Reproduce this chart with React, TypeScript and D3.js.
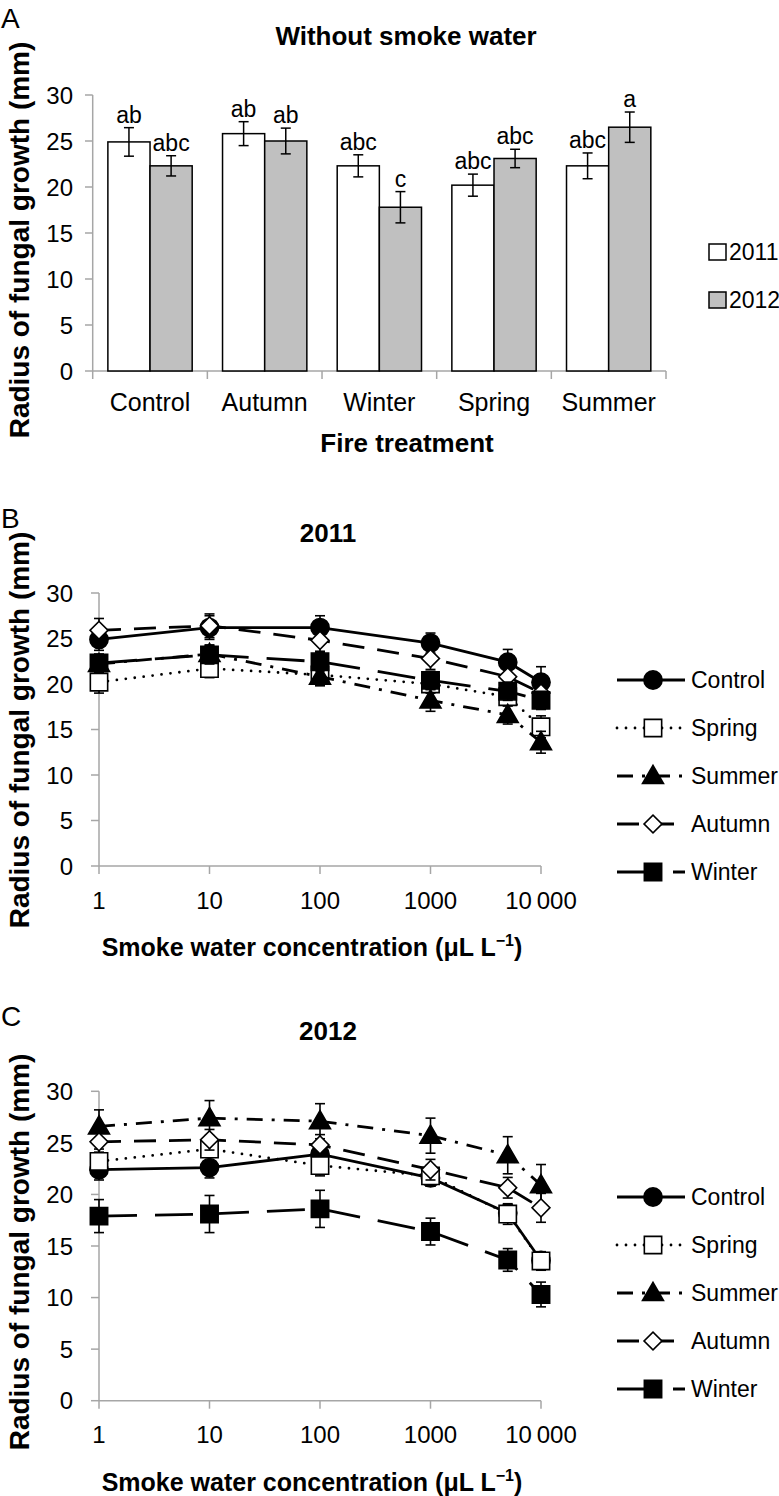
import * as d3 from "d3";
import React from "react";

// Panel A: without smoke water
const fireCats = ["Control", "Autumn", "Winter", "Spring", "Summer"];
const years = ["2011", "2012"];
const bar2011 = [24.9, 25.8, 22.3, 20.2, 22.3];
const err2011 = [1.55, 1.3, 1.2, 1.2, 1.4];
const sig2011 = ["ab", "ab", "abc", "abc", "abc"];
const bar2012 = [22.3, 25.0, 17.8, 23.1, 26.5];
const err2012 = [1.1, 1.4, 1.7, 1.0, 1.65];
const sig2012 = ["abc", "ab", "c", "abc", "a"];

// Panels B & C: smoke water concentration series
const concs = [1, 10, 100, 1000, 5000, 10000];
const concTicks = [1, 10, 100, 1000, 10000];
const yTicks = [0, 5, 10, 15, 20, 25, 30];
const seriesNames = ["Control", "Spring", "Summer", "Autumn", "Winter"];

const b2011Control = [24.9, 26.2, 26.2, 24.5, 22.4, 20.2];
const b2011Spring = [20.2, 21.7, 21.0, 20.0, 18.6, 15.3];
const b2011Summer = [22.2, 23.3, 20.8, 18.2, 16.6, 13.6];
const b2011Autumn = [25.9, 26.4, 24.8, 22.8, 20.8, 19.0];
const b2011Winter = [22.3, 23.2, 22.45, 20.4, 19.2, 18.2];
const e2011Control = [1.2, 1.3, 1.3, 1.1, 1.4, 1.7];
const e2011Spring = [1.2, 1.0, 1.0, 1.0, 1.0, 1.2];
const e2011Summer = [1.0, 1.0, 1.0, 1.2, 1.0, 1.2];
const e2011Autumn = [1.3, 1.3, 1.2, 1.2, 1.2, 1.2];
const e2011Winter = [1.0, 1.0, 1.0, 1.0, 1.0, 1.0];

const c2012Control = [22.4, 22.6, 23.9, 21.6, 18.2, 13.6];
const c2012Spring = [23.2, 24.4, 22.8, 21.8, 18.1, 13.55];
const c2012Summer = [26.6, 27.4, 27.1, 25.7, 23.8, 20.9];
const c2012Autumn = [25.1, 25.3, 24.8, 22.4, 20.65, 18.7];
const c2012Winter = [17.9, 18.1, 18.6, 16.4, 13.65, 10.3];
const e2012Control = [1.0, 1.0, 1.0, 0.8, 0.8, 0.8];
const e2012Spring = [1.2, 1.2, 1.0, 1.0, 1.0, 0.9];
const e2012Summer = [1.6, 1.7, 1.7, 1.7, 1.8, 2.0];
const e2012Autumn = [1.0, 1.0, 1.0, 1.0, 1.0, 1.4];
const e2012Winter = [1.6, 1.8, 1.8, 1.3, 1.1, 1.2];

const FONT = "'Liberation Sans', Arial, Helvetica, sans-serif";
const AXIS = "#a6a6a6";

interface SeriesStyle {
  dash: string;
  cap: "round" | "butt";
  symbol: d3.SymbolType;
  size: number;
  fill: string;
  rotate: number;
}

const styles: Record<string, SeriesStyle> = {
  Control: { dash: "none", cap: "butt", symbol: d3.symbolCircle, size: 260, fill: "#000", rotate: 0 },
  Spring: { dash: "0,9", cap: "round", symbol: d3.symbolSquare, size: 300, fill: "#fff", rotate: 0 },
  Summer: { dash: "16,9,3,9", cap: "butt", symbol: d3.symbolTriangle, size: 190, fill: "#000", rotate: 0 },
  Autumn: { dash: "22,13", cap: "butt", symbol: d3.symbolSquare, size: 160, fill: "#fff", rotate: 45 },
  Winter: { dash: "38,18", cap: "butt", symbol: d3.symbolSquare, size: 300, fill: "#000", rotate: 0 },
};

function Marker({ name, x, y }: { name: string; x: number; y: number }) {
  const s = styles[name];
  const path = d3.symbol().type(s.symbol).size(s.size)()!;
  const dy = s.symbol === d3.symbolTriangle ? 1.5 : 0;
  return (
    <path
      d={path}
      transform={`translate(${x},${y + dy}) rotate(${s.rotate})`}
      fill={s.fill}
      stroke="#000"
      strokeWidth={1.6}
    />
  );
}

function BarPanel() {
  const y = d3.scaleLinear().domain([0, 30]).range([371, 95]);
  const x = d3.scaleBand().domain(fireCats).range([92.7, 666]);
  const inner = d3.scaleBand().domain(years).range([0, x.bandwidth()]).paddingInner(0).paddingOuter(0.36);
  const bw = inner.bandwidth();
  const sets = [
    { year: "2011", vals: bar2011, errs: err2011, sig: sig2011, fill: "#fff" },
    { year: "2012", vals: bar2012, errs: err2012, sig: sig2012, fill: "#c0c0c0" },
  ];
  return (
    <g fontFamily={FONT}>
      <text x={1} y={28} fontSize={28}>A</text>
      <text x={406} y={45} fontSize={26} fontWeight="bold" textAnchor="middle">Without smoke water</text>
      {/* y axis */}
      <line x1={92.7} x2={92.7} y1={y(30)} y2={y(0)} stroke={AXIS} strokeWidth={1.5} />
      {yTicks.map((t) => (
        <g key={t}>
          <line x1={85} x2={92.7} y1={y(t)} y2={y(t)} stroke={AXIS} strokeWidth={1.5} />
          <text x={73} y={y(t)} dy="0.36em" fontSize={24} textAnchor="end">{t}</text>
        </g>
      ))}
      <line x1={92.7} x2={666} y1={y(0)} y2={y(0)} stroke={AXIS} strokeWidth={1.5} />
      {fireCats.map((c) => (
        <line key={c} x1={x(c)!} x2={x(c)!} y1={y(0)} y2={y(0) + 8} stroke={AXIS} strokeWidth={1.5} />
      ))}
      <line x1={666} x2={666} y1={y(0)} y2={y(0) + 8} stroke={AXIS} strokeWidth={1.5} />
      {sets.map((s) => (
        <g key={s.year}>
          {fireCats.map((c, i) => {
            const x0 = x(c)! + inner(s.year)!;
            const cx = x0 + bw / 2;
            const top = y(s.vals[i] + s.errs[i]);
            const bot = y(s.vals[i] - s.errs[i]);
            return (
              <g key={c}>
                <rect x={x0} y={y(s.vals[i])} width={bw} height={y(0) - y(s.vals[i])} fill={s.fill} stroke="#000" strokeWidth={1.5} />
                <line x1={cx} x2={cx} y1={top} y2={bot} stroke="#000" strokeWidth={1.5} />
                <line x1={cx - 5} x2={cx + 5} y1={top} y2={top} stroke="#000" strokeWidth={1.5} />
                <line x1={cx - 5} x2={cx + 5} y1={bot} y2={bot} stroke="#000" strokeWidth={1.5} />
                <text x={cx} y={top - 5} fontSize={23} textAnchor="middle">{s.sig[i]}</text>
              </g>
            );
          })}
        </g>
      ))}
      {fireCats.map((c) => (
        <text key={c} x={x(c)! + x.bandwidth() / 2} y={411} fontSize={25} textAnchor="middle">{c}</text>
      ))}
      <text x={407} y={452} fontSize={26} fontWeight="bold" textAnchor="middle">Fire treatment</text>
      <text transform={`translate(29,240) rotate(-90)`} fontSize={28} fontWeight="bold" textAnchor="middle">
        Radius of fungal growth (mm)
      </text>
      {/* legend */}
      {years.map((yr, i) => (
        <g key={yr}>
          <rect x={709} y={244 + i * 48} width={17} height={16} fill={i === 0 ? "#fff" : "#c0c0c0"} stroke="#000" strokeWidth={1.5} />
          <text x={729} y={252 + i * 48} dy="0.36em" fontSize={23}>{yr}</text>
        </g>
      ))}
    </g>
  );
}

interface LinePanelProps {
  letter: string;
  title: string;
  top: number;
  bottom: number;
  letterY: number;
  titleY: number;
  legendY: number;
  yTitleY: number;
  vals: number[][];
  errs: number[][];
}

function LinePanel({ letter, title, top, bottom, letterY, titleY, legendY, yTitleY, vals, errs }: LinePanelProps) {
  const x = d3.scaleLog().domain([1, 10000]).range([99, 541]);
  const y = d3.scaleLinear().domain([0, 30]).range([bottom, top]);
  const line = d3.line<number>().x((_, i) => x(concs[i])).y((d) => y(d));
  const fmt = (t: number) => (t === 10000 ? "10\u2009000" : String(t));
  return (
    <g fontFamily={FONT}>
      <text x={1} y={letterY} fontSize={28}>{letter}</text>
      <text x={328} y={titleY} fontSize={26} fontWeight="bold" textAnchor="middle">{title}</text>
      <line x1={99} x2={99} y1={top} y2={bottom} stroke={AXIS} strokeWidth={1.5} />
      {yTicks.map((t) => (
        <g key={t}>
          <line x1={91} x2={99} y1={y(t)} y2={y(t)} stroke={AXIS} strokeWidth={1.5} />
          <text x={73} y={y(t)} dy="0.36em" fontSize={24} textAnchor="end">{t}</text>
        </g>
      ))}
      <line x1={99} x2={541} y1={bottom} y2={bottom} stroke={AXIS} strokeWidth={1.5} />
      {concTicks.map((t) => (
        <g key={t}>
          <line x1={x(t)} x2={x(t)} y1={bottom} y2={bottom + 8} stroke={AXIS} strokeWidth={1.5} />
          <text x={x(t)} y={bottom + 34} dy="0.36em" fontSize={24} textAnchor="middle">{fmt(t)}</text>
        </g>
      ))}
      <text x={312} y={bottom + 81} dy="0.36em" fontSize={25} fontWeight="bold" textAnchor="middle">
        Smoke water concentration (μL L<tspan dy={-10} fontSize={16}>−1</tspan><tspan dy={10}>)</tspan>
      </text>
      <text transform={`translate(29,${yTitleY}) rotate(-90)`} fontSize={28} fontWeight="bold" textAnchor="middle">
        Radius of fungal growth (mm)
      </text>
      {seriesNames.map((n, k) => {
        const s = styles[n];
        return (
          <g key={n}>
            <path d={line(vals[k])!} fill="none" stroke="#000" strokeWidth={2.8} strokeDasharray={s.dash} strokeLinecap={s.cap} />
            {vals[k].map((v, i) => {
              const cx = x(concs[i]);
              const t = y(v + errs[k][i]);
              const b = y(v - errs[k][i]);
              return (
                <g key={i}>
                  <line x1={cx} x2={cx} y1={t} y2={b} stroke="#000" strokeWidth={1.6} />
                  <line x1={cx - 5} x2={cx + 5} y1={t} y2={t} stroke="#000" strokeWidth={1.6} />
                  <line x1={cx - 5} x2={cx + 5} y1={b} y2={b} stroke="#000" strokeWidth={1.6} />
                  <Marker name={n} x={cx} y={y(v)} />
                </g>
              );
            })}
          </g>
        );
      })}
      {seriesNames.map((n, k) => {
        const s = styles[n];
        const ly = legendY + k * 48;
        return (
          <g key={n}>
            <line x1={617} x2={685} y1={ly} y2={ly} stroke="#000" strokeWidth={2.8} strokeDasharray={s.dash} strokeLinecap={s.cap} />
            <Marker name={n} x={653} y={ly} />
            <text x={691} y={ly} dy="0.36em" fontSize={23}>{n}</text>
          </g>
        );
      })}
    </g>
  );
}

export default function App() {
  return (
    <div style={{ position: "absolute", left: 0, top: 0 }}>
      <svg width={779} height={1496} style={{ display: "block", background: "#fff" }}>
        <BarPanel />
        <LinePanel
          letter="B"
          title="2011"
          top={593}
          bottom={866}
          letterY={528}
          titleY={542}
          legendY={680}
          yTitleY={730}
          vals={[b2011Control, b2011Spring, b2011Summer, b2011Autumn, b2011Winter]}
          errs={[e2011Control, e2011Spring, e2011Summer, e2011Autumn, e2011Winter]}
        />
        <LinePanel
          letter="C"
          title="2012"
          top={1091.3}
          bottom={1400.7}
          letterY={1026}
          titleY={1040}
          legendY={1197}
          yTitleY={1252}
          vals={[c2012Control, c2012Spring, c2012Summer, c2012Autumn, c2012Winter]}
          errs={[e2012Control, e2012Spring, e2012Summer, e2012Autumn, e2012Winter]}
        />
      </svg>
    </div>
  );
}
